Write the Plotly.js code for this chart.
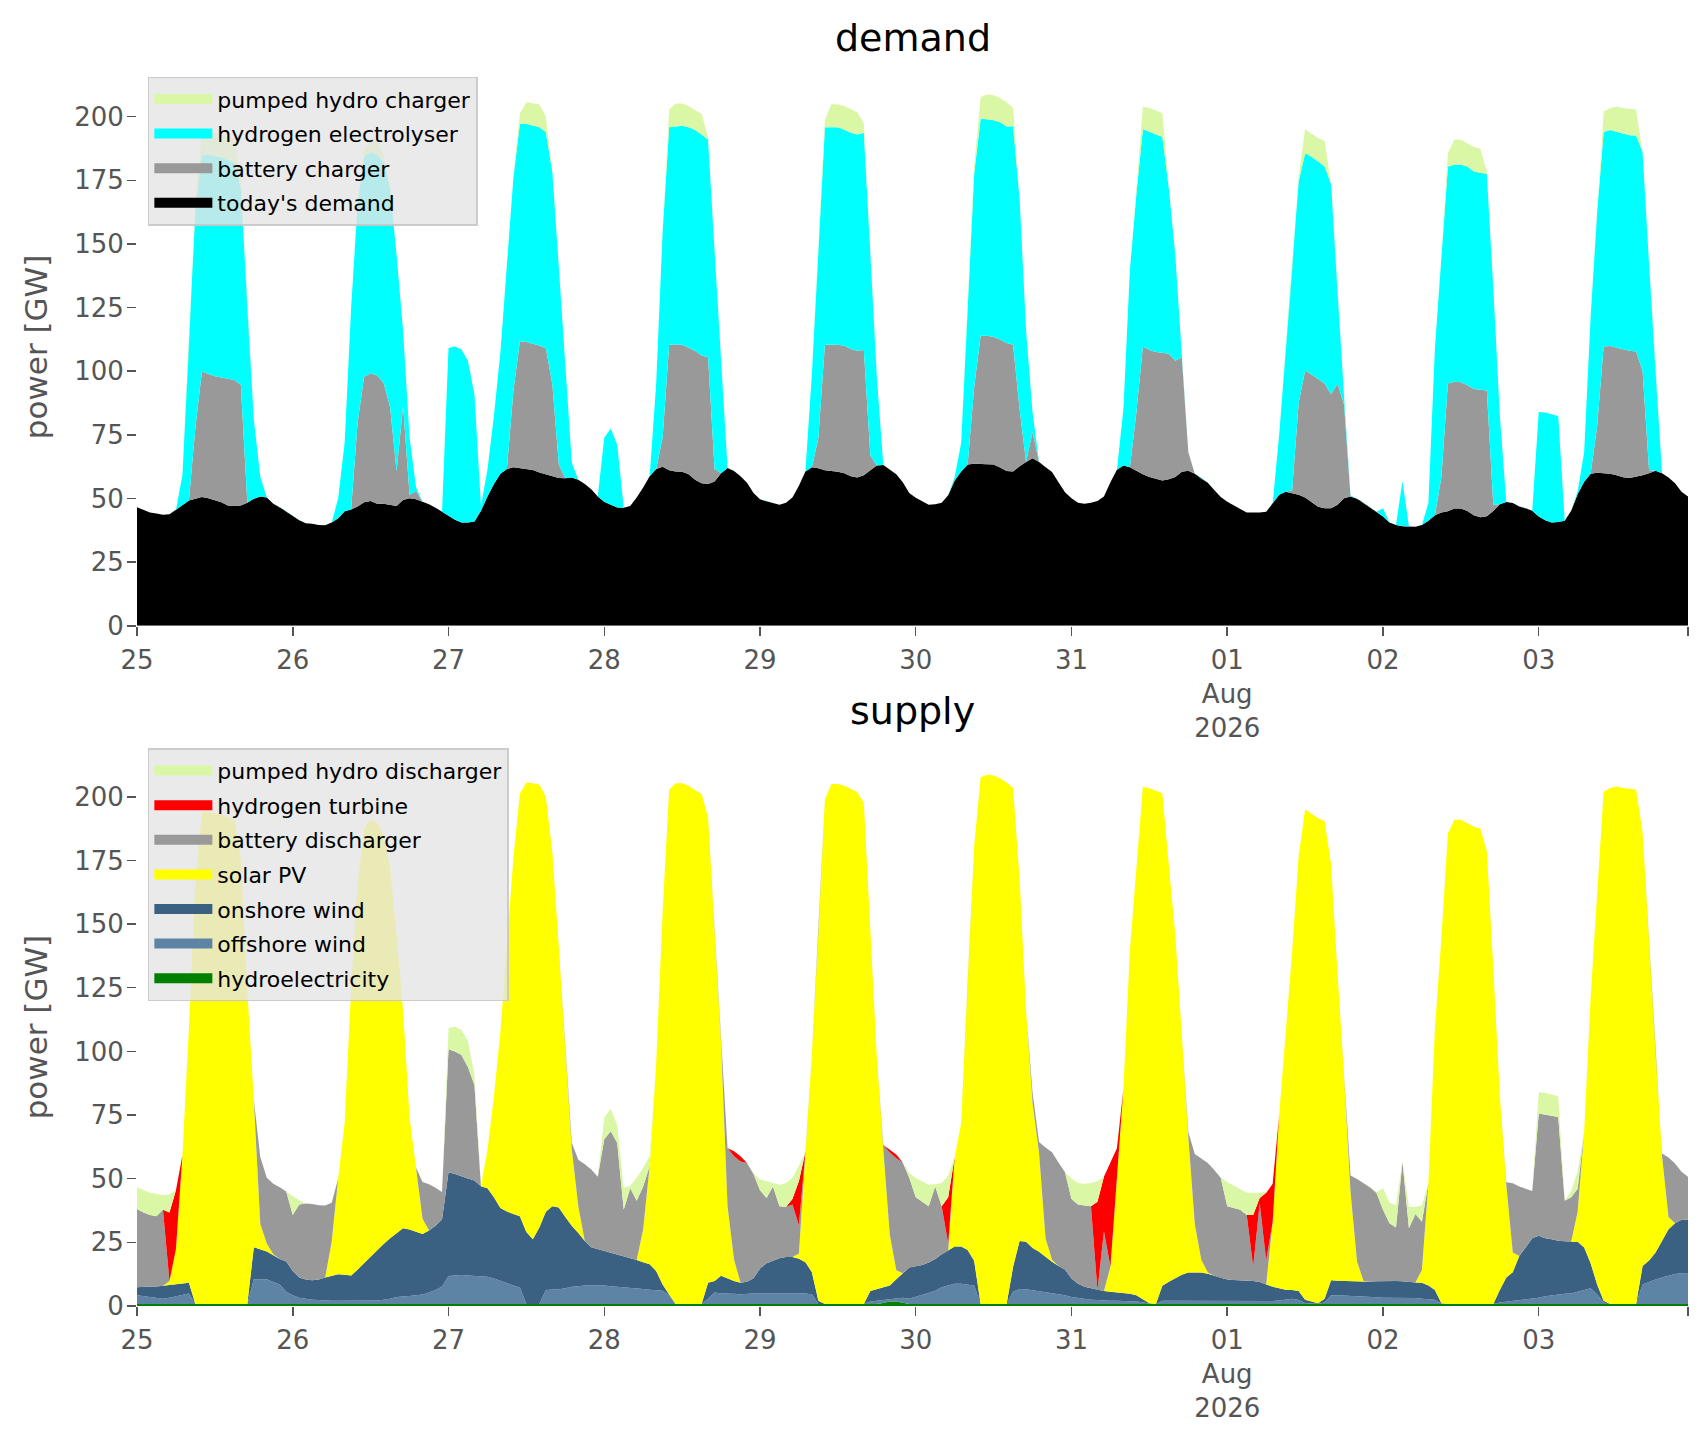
<!DOCTYPE html>
<html>
<head>
<meta charset="utf-8">
<script src="https://cdn.plot.ly/plotly-3.0.1.min.js"></script>
<style>
  html, body { margin: 0; padding: 0; background: #fff; }
  #chart { width: 1706px; height: 1431px; }
</style>
</head>
<body>
<div id="chart"></div>
<script>
// hourly dispatch in GW, 25 Jul 2026 00:00 .. 03 Aug 2026 23:00 (one row per day)

// ---- demand side ----
const todaysDemand = [
  46.6, 45.5, 44.5, 44.1, 43.6, 43.8, 45.5, 47.3, 49.2, 49.9, 50.6, 50.1, 49.3, 48.5, 47.3, 47.1, 47.3, 48.3, 49.9, 50.8, 50.4, 48.0, 46.6, 45.0,
  43.1, 41.5, 40.3, 40.1, 39.6, 39.5, 40.6, 42.3, 45.0, 45.7, 46.9, 48.5, 49.0, 48.0, 48.0, 47.6, 47.1, 49.4, 50.1, 49.7, 48.7, 47.8, 46.4, 44.8,
  43.1, 41.7, 40.6, 40.6, 41.0, 45.2, 50.8, 55.7, 59.7, 61.6, 62.3, 62.0, 61.6, 61.2, 60.2, 59.5, 58.5, 58.1, 58.0, 58.3, 57.4, 55.7, 53.6, 50.8,
  48.7, 47.6, 46.5, 46.4, 47.1, 50.4, 54.3, 58.8, 61.6, 62.5, 61.1, 60.6, 60.5, 59.5, 57.4, 56.0, 55.7, 56.7, 59.9, 62.0, 60.8, 58.8, 56.2, 52.2,
  49.7, 48.9, 48.3, 47.6, 48.3, 50.4, 55.0, 60.6, 62.3, 61.9, 61.1, 60.8, 60.5, 59.9, 58.8, 58.3, 59.1, 61.1, 63.0, 63.2, 61.3, 59.5, 56.4, 52.2,
  50.3, 49.0, 47.6, 47.8, 48.3, 51.3, 57.1, 60.6, 63.4, 63.7, 63.6, 63.7, 63.4, 62.2, 60.8, 60.6, 62.7, 64.4, 65.8, 64.4, 62.3, 60.4, 56.4, 52.5,
  50.1, 48.3, 48.0, 48.3, 49.0, 50.8, 56.4, 61.3, 63.0, 62.3, 60.9, 59.5, 58.5, 57.8, 57.1, 57.6, 58.5, 60.5, 60.9, 59.7, 57.8, 56.2, 53.4, 50.6,
  48.7, 47.3, 45.9, 44.5, 44.5, 44.5, 44.8, 48.0, 51.5, 52.7, 52.2, 51.5, 50.4, 48.7, 46.8, 46.2, 46.2, 47.6, 50.1, 50.8, 49.9, 48.3, 46.6, 44.8,
  42.9, 40.6, 39.6, 39.1, 38.9, 38.9, 39.6, 41.3, 43.4, 44.5, 45.0, 46.1, 46.1, 45.1, 43.4, 42.7, 43.0, 45.1, 47.8, 48.6, 48.2, 46.9, 46.2, 45.2,
  42.9, 41.5, 40.6, 40.8, 41.3, 45.2, 51.8, 56.6, 59.7, 60.1, 59.9, 59.7, 59.1, 58.4, 58.1, 58.5, 59.1, 59.9, 60.9, 59.9, 58.3, 56.0, 52.7, 50.8
];
const batteryCharger = [
  0, 0, 0, 0, 0, 0, 0, 0, 0, 28, 49.3, 48.8, 48.7, 49.0, 49.9, 49.5, 47.4, 0, 0, 0, 0, 0, 0, 0,
  0, 0, 0, 0, 0, 0, 0, 0, 0, 0, 33.1, 49.3, 50.2, 50.3, 47.5, 38.4, 13.5, 36.9, 1.4, 3.3, 0, 0, 0, 0,
  0, 0, 0, 0, 0, 0, 0, 0, 0, 0, 29.9, 49.8, 49.9, 49.6, 49.9, 49.5, 36.5, 5.3, 0, 0, 0, 0, 0, 0,
  0, 0, 0, 0, 0, 0, 0, 0, 0, 11.5, 49.3, 49.9, 49.9, 49.7, 50.6, 50.2, 49.8, 4.9, 0, 0, 0, 0, 0, 0,
  0, 0, 0, 0, 0, 0, 0, 0, 0, 12.1, 49.3, 49.7, 49.9, 50.1, 49.9, 49.7, 49.2, 5.8, 0, 0, 0, 0, 0, 0,
  0, 0, 0, 0, 0, 0, 0, 0, 0, 29.9, 50.3, 50.2, 50.0, 50.3, 50.3, 49.8, 22.5, 0, 10.3, 0, 0, 0, 0, 0,
  0, 0, 0, 0, 0, 0, 0, 0, 0, 0, 22.9, 50.2, 49.8, 49.8, 50.2, 49.3, 45.6, 45.0, 7.4, 0, 0, 0, 0, 0,
  0, 0, 0, 0, 0, 0, 0, 0, 0, 0, 1.0, 36, 49.9, 50.0, 50.0, 49.0, 44.8, 47.6, 36.7, 0, 0, 0, 0, 0,
  0, 0, 0, 0, 0, 0, 0, 0, 0, 14, 50.2, 49.8, 49.6, 49.4, 49.6, 50.0, 49.4, 2.5, 0, 0, 0, 0, 0, 0,
  0, 0, 0, 0, 0, 0, 0, 0, 0, 18.3, 49.8, 50.2, 50.1, 50.3, 49.9, 49.3, 41.0, 1.2, 0, 0, 0, 0, 0, 0
];
const hydrogenElectrolyser = [
  0, 0, 0, 0, 0, 0, 0, 11.9, 59.8, 86, 85.1, 86.1, 86.5, 86.5, 85.8, 85.4, 77.3, 75.7, 31.1, 7.7, 0, 0, 0, 0,
  0, 0, 0, 0, 0, 0, 0, 7.8, 27, 79.3, 86, 86.5, 86.8, 86.7, 86.5, 86, 85, 29.7, 22.5, 1.3, 0, 0, 0, 0,
  66, 68, 67.9, 63.4, 49.8, 2, 10.5, 26.7, 47.9, 79.4, 83.8, 85.4, 85.6, 85.7, 85.7, 85, 83.3, 77.5, 44.2, 5.8, 0, 0, 0, 0,
  25.2, 29.9, 24.6, 0, 0, 0, 0, 0, 33.4, 81, 85.4, 85.6, 86, 86.6, 86.7, 86.8, 85.4, 86, 43.5, 0, 0, 0, 0, 0,
  0, 0, 0, 0, 0, 0, 0, 0, 36.9, 72.5, 85.4, 85.3, 85.4, 84.8, 85, 85, 85.4, 79.9, 34.8, 0, 0, 0, 0, 0,
  0, 0, 0, 0, 0, 0, 1.4, 11.2, 63.8, 84, 85.4, 85.1, 85.2, 85.3, 85, 85.8, 82.6, 51.6, 7.7, 0, 0, 0, 0, 0,
  0, 0, 0, 0, 0, 0, 0, 0, 22.2, 77.5, 86, 85.4, 85.8, 85.4, 84.7, 65.1, 41.3, 1.0, 0, 0, 0, 0, 0, 0,
  0, 0, 0, 0, 0, 0, 0, 0, 23.5, 54.3, 86, 87, 85.3, 85.5, 85.6, 85.2, 82.4, 35.1, 3.5, 0.5, 0, 0, 0, 0,
  3.3, 0, 0, 17.8, 0, 0, 0, 7, 65.6, 86, 85.2, 85.2, 85.4, 85.9, 85.4, 85.2, 85.2, 85, 35, 0, 0, 0, 0, 0,
  41.1, 42.3, 42.5, 41.6, 0, 0, 1.1, 11.7, 61.9, 84.1, 84.3, 84.8, 84.9, 84.7, 84.7, 84.8, 86, 81.1, 38.5, 0, 0, 0, 0, 0
];
const pumpedHydroCharger = [
  0, 0, 0, 0, 0, 0, 0, 0, 0, 3, 9, 9, 9, 9, 9, 9, 4, 0, 0, 0, 0, 0, 0, 0,
  0, 0, 0, 0, 0, 0, 0, 0, 0, 0, 0, 3, 5, 5, 3, 0, 0, 0, 0, 0, 0, 0, 0, 0,
  0, 0, 0, 0, 0, 0, 0, 0, 0, 0, 0, 4, 8.5, 8.8, 9, 6, 0, 0, 0, 0, 0, 0, 0, 0,
  0, 0, 0, 0, 0, 0, 0, 0, 0, 0, 7, 9.1, 8.8, 8.4, 7.8, 8.1, 1, 0, 0, 0, 0, 0, 0, 0,
  0, 0, 0, 0, 0, 0, 0, 0, 0, 0, 3, 9.1, 9.1, 9.4, 9.1, 8.7, 3.8, 0, 0, 0, 0, 0, 0, 0,
  0, 0, 0, 0, 0, 0, 0, 0, 0, 3, 8.4, 9.7, 9.8, 9.5, 9.5, 7.3, 0, 0, 0, 0, 0, 0, 0, 0,
  0, 0, 0, 0, 0, 0, 0, 0, 0, 0, 2, 8.8, 9.3, 9.5, 9.4, 1, 0, 0, 0, 0, 0, 0, 0, 0,
  0, 0, 0, 0, 0, 0, 0, 0, 0, 0, 0, 2, 9.5, 9.1, 9.2, 10.1, 0, 0, 0, 0, 0, 0, 0, 0,
  0, 0, 0, 0, 0, 0, 0, 0, 0, 0, 5.2, 9.8, 9.8, 9.1, 9.7, 9.5, 1, 0, 0, 0, 0, 0, 0, 0,
  0, 0, 0, 0, 0, 0, 0, 0, 0, 1, 8, 8.7, 9.8, 10, 10.4, 10.2, 0, 0, 0, 0, 0, 0, 0, 0
];

// ---- supply side ----
const hydroelectricity = [
  0.8, 0.8, 0.8, 0.8, 0.8, 0.8, 0.8, 0.8, 0.8, 0.8, 0.8, 0.8, 0.8, 0.8, 0.8, 0.8, 0.8, 0.8, 0.8, 0.8, 0.8, 0.8, 0.8, 0.8,
  0.8, 0.8, 0.8, 0.8, 0.8, 0.8, 0.8, 0.8, 0.8, 0.8, 0.8, 0.8, 0.8, 0.8, 0.8, 0.8, 0.8, 0.8, 0.8, 0.8, 0.8, 0.8, 0.8, 0.8,
  0.8, 0.8, 0.8, 0.8, 0.8, 0.8, 0.8, 0.8, 0.8, 0.8, 0.8, 0.8, 0.8, 0.8, 0.8, 0.8, 0.8, 0.8, 0.8, 0.8, 0.8, 0.8, 0.8, 0.8,
  0.8, 0.8, 0.8, 0.8, 0.8, 0.8, 0.8, 0.8, 0.8, 0.8, 0.8, 0.8, 0.8, 0.8, 0.8, 0.8, 0.8, 0.8, 0.8, 0.8, 0.8, 0.8, 0.8, 0.8,
  0.8, 0.8, 0.8, 0.8, 0.8, 0.8, 0.8, 0.8, 0.8, 0.8, 0.8, 0.8, 0.8, 0.8, 0.8, 0.8, 0.8, 0.8, 0.8, 1.2, 1.8, 1.8, 1.2, 0.8,
  0.8, 0.8, 0.8, 0.8, 0.8, 0.8, 0.8, 0.8, 0.8, 0.8, 0.8, 0.8, 0.8, 0.8, 0.8, 0.8, 0.8, 0.8, 0.8, 0.8, 0.8, 0.8, 0.8, 0.8,
  0.8, 0.8, 0.8, 0.8, 0.8, 0.8, 0.8, 0.8, 0.8, 0.8, 0.8, 0.8, 0.8, 0.8, 0.8, 0.8, 0.8, 0.8, 0.8, 0.8, 0.8, 0.8, 0.8, 0.8,
  0.8, 0.8, 0.8, 0.8, 0.8, 0.8, 0.8, 0.8, 0.8, 0.8, 0.8, 0.8, 0.8, 0.8, 0.8, 0.8, 0.8, 0.8, 0.8, 0.8, 0.8, 0.8, 0.8, 0.8,
  0.8, 0.8, 0.8, 0.8, 0.8, 0.8, 0.8, 0.8, 0.8, 0.8, 0.8, 0.8, 0.8, 0.8, 0.8, 0.8, 0.8, 0.8, 0.8, 0.8, 0.8, 0.8, 0.8, 0.8,
  0.8, 0.8, 0.8, 0.8, 0.8, 0.8, 0.8, 0.8, 0.8, 0.8, 0.8, 0.8, 0.8, 0.8, 0.8, 0.8, 0.8, 0.8, 0.8, 0.8, 0.8, 0.8, 0.8, 0.8
];
const offshoreWind = [
  3.4, 3.1, 2.7, 2.4, 2.0, 2.4, 3.0, 3.7, 4.1, 0, 0, 0, 0, 0, 0, 0, 0, 0, 9.7, 9.7, 9.7, 8.6, 7.6, 4.8,
  3.4, 2.4, 2.0, 1.7, 1.6, 1.4, 1.3, 1.3, 1.3, 1.3, 1.3, 1.3, 1.3, 1.4, 1.7, 2.0, 2.7, 2.8, 3.1, 3.4, 3.7, 4.5, 5.5, 6.9,
  11.0, 11.2, 11.4, 11.2, 11.1, 11.0, 10.7, 10.0, 9.0, 8.3, 7.3, 6.5, 0, 0, 0, 5.5, 5.6, 5.8, 6.2, 6.8, 7.0, 7.3, 7.3, 7.3,
  7.3, 7.0, 6.8, 6.6, 6.5, 6.2, 5.9, 5.6, 5.4, 5.2, 3.4, 0, 0, 0, 0, 0, 2.0, 4.5, 4.1, 4.1, 4.0, 3.8, 4.0, 4.1,
  4.1, 4.1, 4.1, 4.1, 4.1, 4.1, 4.1, 4.1, 3.8, 0, 0, 0, 0, 0, 0, 0, 0, 1.0, 1.3, 1.2, 1.0, 1.3, 2.0, 2.0,
  2.8, 3.4, 4.2, 5.2, 6.6, 7.2, 7.9, 7.9, 7.7, 7.3, 0, 0, 0, 0, 0, 4.8, 5.9, 5.8, 5.4, 5.1, 4.8, 4.2, 3.8, 3.4,
  2.7, 2.3, 2.0, 1.7, 1.6, 1.4, 1.3, 1.3, 1.2, 1.2, 1.0, 0.7, 0.1, 0, 1.3, 1.3, 1.3, 1.3, 1.2, 1.2, 1.2, 1.2, 1.1, 1.1,
  1.2, 1.2, 1.2, 1.2, 1.2, 1.2, 1.2, 1.2, 1.4, 1.7, 2.0, 1.6, 0.4, 0.2, 0.1, 0.6, 3.4, 3.4, 3.3, 3.1, 3.0, 2.8, 2.7, 2.6,
  2.4, 2.4, 2.4, 2.4, 2.4, 2.3, 2.0, 1.9, 1.7, 0.2, 0, 0, 0, 0, 0, 0, 0, 0, 0.6, 0.9, 1.3, 1.6, 1.7, 2.0,
  2.4, 3.0, 3.4, 3.8, 4.0, 4.1, 4.8, 5.4, 6.2, 3.7, 0.6, 0, 0, 0, 0, 0, 7.6, 8.7, 9.6, 10.4, 11.2, 11.8, 12.1, 12.2
];
const onshoreWind = [
  3.2, 3.7, 4.2, 4.5, 5.2, 5.1, 4.9, 4.5, 4.2, 0, 0, 0, 0, 0, 0, 0, 0, 0, 12.6, 11.9, 10.9, 10.5, 10.1, 11.9,
  9.5, 8.0, 7.6, 7.6, 8.0, 9.0, 9.8, 10.4, 10.2, 9.9, 12.2, 14.7, 17.5, 19.8, 21.9, 23.8, 25.1, 26.9, 26.1, 24.9, 23.8, 24.4, 25.2, 26.3,
  40.7, 39.8, 38.6, 38.1, 37.4, 35.2, 34.7, 31.9, 28.7, 28.0, 28.0, 28.0, 28.3, 25.4, 30.0, 30.7, 32.8, 32.1, 28.0, 23.9, 20.9, 17.4, 15.0, 14.3,
  13.6, 13.2, 12.6, 12.2, 11.6, 11.1, 10.5, 10.0, 7.5, 2.4, 0.3, 0, 0, 0, 0, 0, 6.3, 4.5, 7.0, 5.9, 5.0, 4.5, 4.7, 6.0,
  9.8, 11.9, 13.0, 13.9, 14.3, 14.3, 13.7, 12.3, 8.7, 1.3, 0, 0, 0, 0, 0, 0, 0, 4.1, 4.6, 4.9, 5.3, 7.4, 9.7, 12.3,
  12.1, 11.9, 12.1, 12.5, 12.9, 13.7, 14.7, 14.7, 13.5, 9.7, 0, 0, 0, 0, 0, 9.8, 18.8, 18.6, 16.6, 15.4, 13.7, 12.4, 11.1, 10.1,
  7.3, 5.6, 4.8, 4.5, 3.8, 3.7, 3.5, 3.2, 3.0, 2.8, 2.4, 1.3, 0.2, 0, 5.9, 7.4, 8.7, 10.2, 11.2, 11.3, 11.2, 10.7, 10.0, 9.2,
  8.4, 8.2, 8.1, 8.1, 7.8, 7.4, 6.4, 5.6, 4.8, 3.9, 3.5, 3.5, 1.3, 0.7, 0.2, 1.4, 5.9, 5.7, 5.7, 5.6, 5.6, 5.9, 6.0, 6.3,
  6.6, 6.6, 6.6, 6.5, 6.2, 6.1, 6.3, 5.4, 3.8, 0.1, 0, 0, 0, 0, 0, 0, 0, 0, 4.9, 9.5, 11.2, 17.2, 20.6, 23.8,
  24.4, 22.8, 22.0, 21.0, 20.6, 20.3, 19.6, 16.8, 9.8, 3.9, 0.7, 0, 0, 0, 0, 0, 7.3, 8.4, 10.6, 14.3, 18.1, 19.9, 21.0, 20.9
];
const solarPV = [
  0, 0, 0, 0, 0, 1.5, 13.7, 50.2, 99.9, 166.1, 193.2, 193.2, 192.7, 192.2, 191.2, 190.2, 175.2, 123.2, 57.9, 9.8, 3.1, 0.4, 0, 0,
  0, 0, 0, 0, 0, 0, 13.3, 37.6, 59.7, 113, 151.7, 170.5, 171.4, 168, 160.6, 145.4, 117, 85.5, 44, 25.2, 6, 0, 0, 0,
  0, 0, 0, 0, 0, 0, 15.1, 39.7, 69.1, 103.9, 139.9, 165.9, 176.5, 179.1, 174, 163, 139.1, 102.2, 67.2, 30.1, 10.5, 0, 0, 0,
  0, 0, 0, 0, 0, 0, 12.9, 38.6, 81.3, 146.6, 198.3, 204.5, 204.5, 203.5, 201.8, 200.4, 182.8, 137.8, 91.5, 28.4, 8.4, 0, 0, 0,
  0, 0, 0, 0, 0, 0, 2, 43.4, 85.9, 144.4, 198.1, 204.2, 204.2, 203.5, 202.1, 201, 196.8, 140.9, 91.1, 54.3, 19.9, 3.5, 0, 0,
  0, 0, 0, 0, 0, 0, 35.1, 48.4, 105.2, 162.8, 206.9, 207.9, 207.6, 206.5, 204.8, 188.1, 142.3, 90.8, 57, 38.9, 7.3, 0.8, 0, 0,
  0, 0, 0, 0, 0, 0, 9.8, 45.1, 80.2, 135, 167.6, 201.1, 202.3, 201.7, 193.4, 163.5, 134.6, 94.2, 53.3, 18.9, 5, 0.5, 0, 0,
  0, 0, 0, 0, 0, 0, 0, 25.4, 68, 100.6, 132.9, 170.6, 192.6, 191.6, 190.5, 187.7, 163.3, 120.4, 80.5, 35.3, 8.1, 0.3, 0, 0,
  0, 0, 0, 0, 0, 0, 5, 40.2, 102.7, 143.4, 184.9, 190.2, 190.2, 188.8, 187.4, 186.7, 177.9, 131.9, 76.5, 36.4, 7.7, 0, 0, 0,
  0, 0, 0, 0, 0, 0, 11.9, 45.3, 104.8, 155.1, 199.9, 202.7, 203.2, 202.7, 202.4, 202.1, 170.4, 124.3, 78.4, 33.3, 4.9, 0, 0, 0
];
const batteryDischarger = [
  30.7, 29.1, 28.0, 27.6, 29.8, 0, 0, 0, 0, 0, 0, 0, 0, 0, 0, 0, 0, 0, 0, 26.3, 25.9, 27.7, 28.1, 27.5,
  22.0, 28.7, 29.9, 30.0, 29.2, 28.3, 15.4, 0, 0, 0, 0, 0, 0, 0, 0, 0, 0, 0, 0, 0, 14.4, 18.1, 14.9, 10.8,
  48.3, 48.2, 47.8, 43.7, 37.5, 0, 0, 0, 0, 0, 0, 0, 0, 0, 0, 0, 0, 0, 0, 2.5, 18.2, 30.2, 30.5, 28.4,
  43.8, 47.6, 43.8, 18.2, 27.3, 23.2, 16.8, 0, 0, 0, 0, 0, 0, 0, 0, 0, 0, 0, 0, 22.8, 40.6, 47.7, 46.7, 40.9,
  30.8, 25.6, 29.0, 20.4, 19.7, 20.7, 11.0, 0, 0, 0, 0, 0, 0, 0, 0, 0, 0, 0, 0, 1.6, 32.3, 44.0, 43.5, 35.3,
  27.0, 24.8, 22.1, 28.4, 18.9, 2.8, 0, 0, 0, 0, 0, 0, 0, 0, 0, 0, 0, 0, 4.0, 4.2, 35.7, 42.2, 40.7, 38.2,
  31.2, 31.2, 31.9, 32.2, 0, 23.5, 0, 0, 0, 0, 0, 0, 0, 0, 0, 0, 0, 0, 1.8, 27.5, 39.6, 43.0, 41.5, 39.3,
  28.8, 28.3, 27.7, 25.6, 5.6, 31.0, 9.5, 0, 0, 0, 0, 0, 0, 0, 0, 0, 0, 0, 0, 6.5, 32.4, 38.5, 37.1, 34.7,
  28.0, 22.7, 21.0, 47.0, 21.1, 26.9, 19.0, 0, 0, 0, 0, 0, 0, 0, 0, 0, 0, 0, 0, 1.0, 27.2, 27.3, 23.1, 18.6,
  48.0, 48.6, 48.4, 48.6, 15.9, 17.5, 9.0, 0, 0, 0, 0, 0, 0, 0, 0, 0, 0, 0, 0, 1.1, 23.3, 23.5, 18.8, 16.9
];
const hydrogenTurbine = [
  0, 0, 0, 0, 0, 26.9, 23.1, 0, 0, 0, 0, 0, 0, 0, 0, 0, 0, 0, 0, 0, 0, 0, 0, 0,
  0, 0, 0, 0, 0, 0, 0, 0, 0, 0, 0, 0, 0, 0, 0, 0, 0, 0, 0, 0, 0, 0, 0, 0,
  0, 0, 0, 0, 0, 0, 0, 0, 0, 0, 0, 0, 0, 0, 0, 0, 0, 0, 0, 0, 0, 0, 0, 0,
  0, 0, 0, 0, 0, 0, 0, 0, 0, 0, 0, 0, 0, 0, 0, 0, 0, 0, 0, 0, 2, 2, 0, 0,
  0, 0, 0, 0, 0, 2.1, 17.5, 0, 0, 0, 0, 0, 0, 0, 0, 0, 0, 0, 0, 0, 1.0, 1.5, 0, 0,
  0, 0, 0, 0, 0, 18.2, 0, 0, 0, 0, 0, 0, 0, 0, 0, 0, 0, 0, 0, 0, 0, 0, 0, 0,
  0, 0, 0, 0, 34.7, 21.4, 41.0, 11.6, 0, 0, 0, 0, 0, 0, 0, 0, 0, 0, 0, 0, 0, 0, 0, 0,
  0, 0, 0, 0, 20.3, 2.0, 26.6, 15.0, 0, 0, 0, 0, 0, 0, 0, 0, 0, 0, 0, 0, 0, 0, 0, 0,
  0, 0, 0, 0, 0, 0, 0, 0, 0, 0, 0, 0, 0, 0, 0, 0, 0, 0, 0, 0, 0, 0, 0, 0,
  0, 0, 0, 0, 0, 0, 0, 0, 0, 0, 0, 0, 0, 0, 0, 0, 0, 0, 0, 0, 0, 0, 0, 0
];
const pumpedHydroDischarger = [
  8.5, 8.8, 8.8, 8.8, 5.8, 7.1, 0, 0, 0, 0, 0, 0, 0, 0, 0, 0, 0, 0, 0, 0, 0, 0, 0, 0,
  7.4, 1.6, 0, 0, 0, 0, 0, 0, 0, 0, 0, 0, 0, 0, 0, 0, 0, 0, 0, 0, 0, 0, 0, 0,
  8.4, 9.7, 9.9, 10.2, 4.0, 0, 0, 0, 0, 0, 0, 0, 0, 0, 0, 0, 0, 0, 0, 0, 0, 0, 0, 0,
  8.4, 8.9, 7.1, 8.6, 0.9, 9.1, 7.4, 3.8, 0, 0, 0, 0, 0, 0, 0, 0, 0, 0, 0, 0, 0, 0, 0, 0.4,
  4.2, 6.5, 1.4, 8.4, 9.4, 8.4, 6.0, 0, 0, 0, 0, 0, 0, 0, 0, 0, 0, 0, 0, 0, 0, 0, 0, 1.8,
  7.6, 8.1, 8.4, 0.9, 9.1, 8.6, 0, 0, 0, 0, 0, 0, 0, 0, 0, 0, 0, 0, 0, 0, 0, 0, 0, 0,
  8.1, 8.4, 8.5, 9.1, 8.1, 0, 0, 0, 0, 0, 0, 0, 0, 0, 0, 0, 0, 0, 0, 0, 0, 0, 0, 0.2,
  9.5, 8.8, 8.1, 8.8, 8.8, 2.1, 0.3, 0, 0, 0, 0, 0, 0, 0, 0, 0, 0, 0, 0, 0, 0, 0, 0, 0.4,
  8.4, 8.1, 8.8, 0.2, 8.4, 2.8, 6.5, 0, 0, 0, 0, 0, 0, 0, 0, 0, 0, 0, 0, 0, 0, 0, 0, 0,
  8.4, 8.6, 8.5, 8.2, 0, 2.5, 6.8, 0, 0, 0, 0, 0, 0, 0, 0, 0, 0, 0, 0, 0, 0, 0, 0, 0
];

// x axis ticks (one per day)
const tickDays = ['2026-07-25', '2026-07-26', '2026-07-27', '2026-07-28', '2026-07-29',
                  '2026-07-30', '2026-07-31', '2026-08-01', '2026-08-02', '2026-08-03'];
const tickLabels = ['25', '26', '27', '28', '29', '30', '31', '01<br>Aug<br>2026', '02', '03'];
const yTicks = [0, 25, 50, 75, 100, 125, 150, 175, 200];

// hourly timestamps
const times = todaysDemand.map(function(v, h) {
  const d = new Date(Date.UTC(2026, 6, 25) + h * 3600 * 1000);
  return d.toISOString().slice(0, 16).replace('T', ' ');
});
const lastTime = times[times.length - 1];

function area(y, color, xa, ya, group) {
  return {
    x: times, y: y, type: 'scatter', mode: 'lines',
    stackgroup: group, xaxis: xa, yaxis: ya,
    line: {width: 0, color: color}, fillcolor: color,
    showlegend: false, hoverinfo: 'skip'
  };
}
// legend-only entries (no data), one legend group each so the rows get a gap
function legendEntry(name, color, xa, ya, legend) {
  return {
    x: [times[0]], y: [null], type: 'scatter', mode: 'lines', name: name,
    xaxis: xa, yaxis: ya, legend: legend, legendgroup: name,
    line: {width: 16, color: color}, hoverinfo: 'skip'
  };
}

const data = [
  area(todaysDemand, '#000000', 'x', 'y', 'demand'),
  area(batteryCharger, '#999999', 'x', 'y', 'demand'),
  area(hydrogenElectrolyser, '#00ffff', 'x', 'y', 'demand'),
  area(pumpedHydroCharger, '#daf7a6', 'x', 'y', 'demand'),

  area(hydroelectricity, '#008000', 'x2', 'y2', 'supply'),
  area(offshoreWind, '#5d84a5', 'x2', 'y2', 'supply'),
  area(onshoreWind, '#3b6182', 'x2', 'y2', 'supply'),
  area(solarPV, '#ffff00', 'x2', 'y2', 'supply'),
  area(batteryDischarger, '#999999', 'x2', 'y2', 'supply'),
  area(hydrogenTurbine, '#ff0000', 'x2', 'y2', 'supply'),
  area(pumpedHydroDischarger, '#daf7a6', 'x2', 'y2', 'supply'),

  legendEntry('pumped hydro charger', '#daf7a6', 'x', 'y', 'legend'),
  legendEntry('hydrogen electrolyser', '#00ffff', 'x', 'y', 'legend'),
  legendEntry('battery charger', '#999999', 'x', 'y', 'legend'),
  legendEntry("today's demand", '#000000', 'x', 'y', 'legend'),

  legendEntry('pumped hydro discharger', '#daf7a6', 'x2', 'y2', 'legend2'),
  legendEntry('hydrogen turbine', '#ff0000', 'x2', 'y2', 'legend2'),
  legendEntry('battery discharger', '#999999', 'x2', 'y2', 'legend2'),
  legendEntry('solar PV', '#ffff00', 'x2', 'y2', 'legend2'),
  legendEntry('onshore wind', '#3b6182', 'x2', 'y2', 'legend2'),
  legendEntry('offshore wind', '#5d84a5', 'x2', 'y2', 'legend2'),
  legendEntry('hydroelectricity', '#008000', 'x2', 'y2', 'legend2')
];

function xAxis(anchor) {
  return {
    type: 'date', anchor: anchor, domain: [0, 1],
    range: [times[0], lastTime],
    tickmode: 'array', tickvals: tickDays.concat([lastTime]), ticktext: tickLabels.concat(['']),
    ticks: 'outside', ticklen: 9, tickwidth: 1.5, tickcolor: '#555555',
    ticklabelstandoff: 2,
    tickfont: {size: 26, color: '#555555'},
    showgrid: false, zeroline: false, showline: false, automargin: false
  };
}
function yAxis(anchor, domain) {
  return {
    anchor: anchor, domain: domain, range: [0, 219.1],
    tickmode: 'array', tickvals: yTicks,
    ticks: 'outside', ticklen: 9, tickwidth: 1.5, tickcolor: '#555555',
    ticklabelstandoff: -2,
    tickfont: {size: 26, color: '#555555'},
    title: {text: 'power [GW]', font: {size: 31, color: '#555555'}, standoff: 17},
    showgrid: false, zeroline: false, showline: false, automargin: false
  };
}
function legendBox(y) {
  return {
    x: 0.007, y: y, xanchor: 'left', yanchor: 'top',
    traceorder: 'grouped', bgcolor: 'rgba(229,229,229,0.8)',
    bordercolor: 'rgba(200,200,200,0.9)', borderwidth: 1.5,
    font: {size: 22, color: '#000000'}, itemwidth: 58, tracegroupgap: 3
  };
}

const layout = {
  width: 1706, height: 1431,
  margin: {l: 137, r: 18, t: 68, b: 125},
  paper_bgcolor: '#ffffff', plot_bgcolor: '#ffffff',
  font: {family: 'DejaVu Sans, sans-serif', size: 26, color: '#555555'},
  hovermode: false,
  xaxis: xAxis('y'),
  yaxis: yAxis('x', [0.5494, 1]),
  xaxis2: xAxis('y2'),
  yaxis2: yAxis('x2', [0, 0.4506]),
  legend: legendBox(0.993),
  legend2: legendBox(0.4505),
  annotations: [
    {text: 'demand', xref: 'paper', yref: 'paper', x: 0.5, y: 1.0246,
     xanchor: 'center', yanchor: 'middle', showarrow: false,
     font: {size: 38, color: '#000000'}},
    {text: 'supply', xref: 'paper', yref: 'paper', x: 0.5, y: 0.4805,
     xanchor: 'center', yanchor: 'middle', showarrow: false,
     font: {size: 38, color: '#000000'}}
  ]
};

Plotly.newPlot('chart', data, layout, {displayModeBar: false, staticPlot: true});
</script>
</body>
</html>
